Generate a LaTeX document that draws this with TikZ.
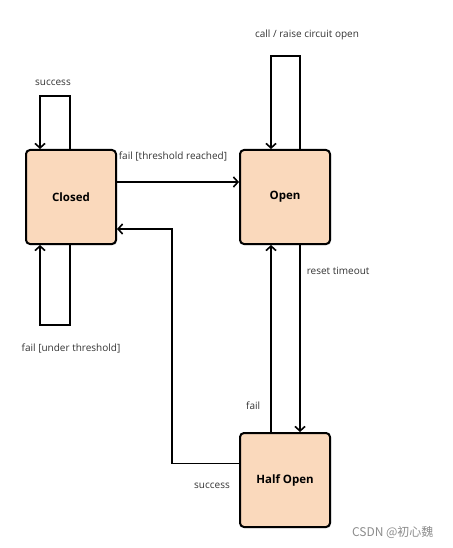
\documentclass[tikz,border=0pt]{standalone}
\usepackage{fontspec}
\setmainfont{Open Sans}
\newfontfamily\cjk{Noto Sans CJK SC}
\usetikzlibrary{arrows.meta,positioning,shadows}

\definecolor{statefill}{HTML}{FAD9BC}

\begin{document}
\begin{tikzpicture}[
		x=1pt, y=-1pt,
		node distance=122pt,
		state/.style={draw, line width=2pt, rounded corners=4pt, fill=statefill,
			minimum width=90pt, minimum height=94pt, font=\fontsize{11.5}{13}\selectfont\bfseries,
			drop shadow={shadow xshift=1pt, shadow yshift=-1.2pt, opacity=0.35}},
		flow/.style={line width=1.7pt, -{Straight Barb[length=4.5pt,width=10pt,line width=1.6pt]}},
		lbl/.style={font=\fontsize{10}{12}\selectfont, text=black!80, inner sep=1pt}
	]
		\useasboundingbox (0,0) rectangle (452,548);

		\node[state] (closed) at (71,197) {Closed};
		\node[state, right=of closed] (open) {Open};
		\node[state, below=187pt of open] (half open) {Half Open};

		% closed -> open
		\draw[flow] ([yshift=15pt]closed.east) -- ([yshift=15pt]open.west)
			node[lbl, pos=0, anchor=south west, yshift=19pt] {fail [threshold reached]};

		% self loops of closed
		\draw[flow] ([xshift=-1pt]closed.north) -- ++(0,-53)
			node[lbl, above=9pt, xshift=-17pt] {success} -| ([xshift=-31pt]closed.north);
		\draw[flow] ([xshift=-1pt]closed.south) -- ++(0,80) -| ([xshift=-31pt]closed.south);
		\node[lbl, below=98pt of closed.south] (under) {fail [under threshold]};

		% self loop of open
		\draw[flow] ([xshift=15pt]open.north) -- ++(0,-93)
			node[lbl, above=14pt, xshift=7pt] {call / raise circuit open} -| ([xshift=-14pt]open.north);

		% open <-> half open
		\draw[flow] ([xshift=15pt]open.south) -- ([xshift=15pt]half open.north)
			node[lbl, pos=0.14, anchor=west, xshift=5pt] {reset timeout};
		\draw[flow] ([xshift=-14pt]half open.north) -- ([xshift=-14pt]open.south)
			node[lbl, pos=0.14, anchor=east, xshift=-9pt] {fail};

		% half open -> closed
		\coordinate (turn) at (172,461);
		\draw[flow] ([yshift=16.5pt]half open.west) -| (turn) |- ([yshift=-32pt]closed.east);
		\node[lbl, anchor=north east] (succ) at ([xshift=-8pt, yshift=-2pt]half open.west) {success};

		\node[font=\cjk\fontsize{12}{14}\selectfont, text=black!45, anchor=east] (mark) at (437,532) {CSDN @初心魏};
	\end{tikzpicture}
\end{document}
